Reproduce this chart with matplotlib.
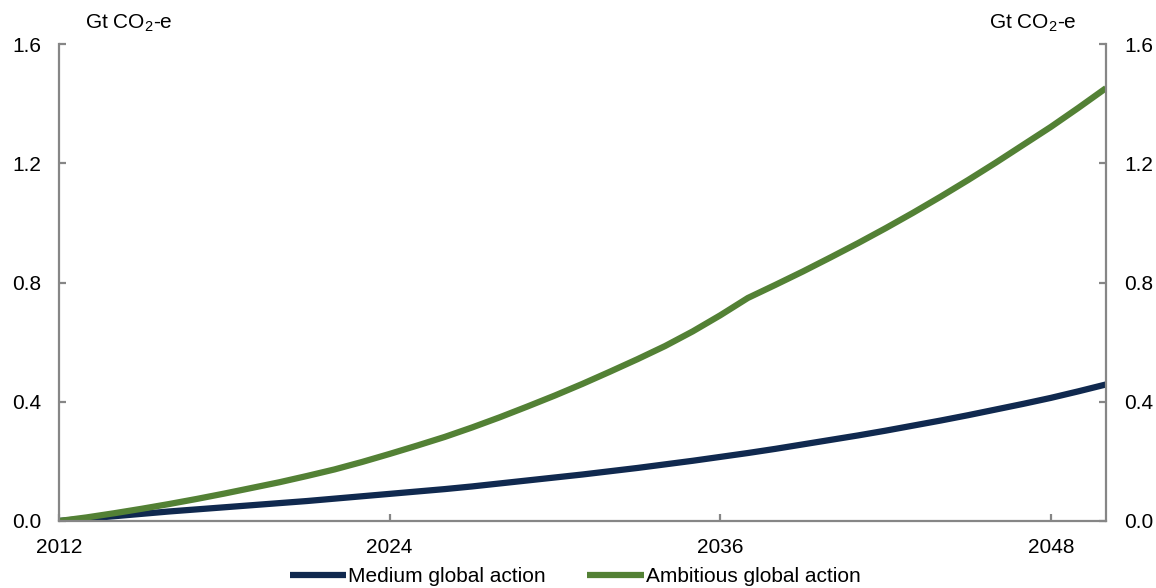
import matplotlib
matplotlib.use("Agg")
import matplotlib.pyplot as plt

plt.rcParams['font.family'] = ['Liberation Sans', 'DejaVu Sans']
plt.rcParams['mathtext.fontset'] = 'custom'
plt.rcParams['mathtext.rm'] = 'Liberation Sans'
plt.rcParams['mathtext.it'] = 'Liberation Sans:italic'

years = list(range(2012, 2051))
medium = [0.000, 0.008, 0.016, 0.024, 0.032, 0.039, 0.046, 0.053, 0.060, 0.067,
          0.075, 0.083, 0.091, 0.099, 0.107, 0.116, 0.126, 0.136, 0.146, 0.156,
          0.167, 0.178, 0.190, 0.202, 0.215, 0.228, 0.242, 0.257, 0.272, 0.287,
          0.303, 0.320, 0.337, 0.355, 0.374, 0.393, 0.413, 0.435, 0.458]
ambitious = [0.000, 0.012, 0.026, 0.041, 0.057, 0.074, 0.092, 0.111, 0.130, 0.151,
             0.173, 0.198, 0.225, 0.253, 0.282, 0.314, 0.348, 0.384, 0.421, 0.460,
             0.501, 0.543, 0.587, 0.636, 0.690, 0.748, 0.792, 0.837, 0.884, 0.932,
             0.982, 1.034, 1.088, 1.144, 1.202, 1.262, 1.322, 1.386, 1.452]
xticks = [2012, 2024, 2036, 2048]
yticks = [0.0, 0.4, 0.8, 1.2, 1.6]
unit = "Gt CO$_2$-e"

navy = "#10294f"
green = "#538135"
grey = "#868686"
fs = 15

fig = plt.figure(figsize=(11.56, 5.88), dpi=100)
ax = fig.add_axes([59 / 1156, 1 - 521 / 588, (1106 - 59) / 1156, (521 - 44) / 588])

ax.plot(years, medium, color=navy, lw=4.5, label="Medium global action", solid_capstyle='butt')
ax.plot(years, ambitious, color=green, lw=4.5, label="Ambitious global action", solid_capstyle='butt')

ax.set_xlim(2012, 2050)
ax.set_ylim(0, 1.6)
ax.set_xticks(xticks)
ax.set_yticks(yticks)
ax.set_yticklabels([f"{v:.1f}" for v in yticks])

for side in ['left', 'right', 'bottom']:
    ax.spines[side].set_color(grey)
    ax.spines[side].set_linewidth(1.6)
ax.spines['top'].set_visible(False)

ax.tick_params(axis='y', direction='in', length=5, width=1.6, color=grey,
               left=True, right=True, labelleft=True, labelright=True,
               labelsize=fs, pad=13)
ax.tick_params(axis='x', direction='in', length=5, width=1.6, color=grey,
               labelsize=fs, pad=12)

fig.text(85 / 1156, 1 - 23 / 588, unit, fontsize=fs, ha='left', va='center')
fig.text(1077 / 1156, 1 - 23 / 588, unit, fontsize=fs, ha='right', va='center')

fig.legend(loc='center', bbox_to_anchor=(575 / 1156, 1 - 577 / 588), ncol=2, frameon=False,
           fontsize=fs, handlelength=2.7, handletextpad=0.1, columnspacing=2.0)

fig.savefig("out.png", dpi=100)
